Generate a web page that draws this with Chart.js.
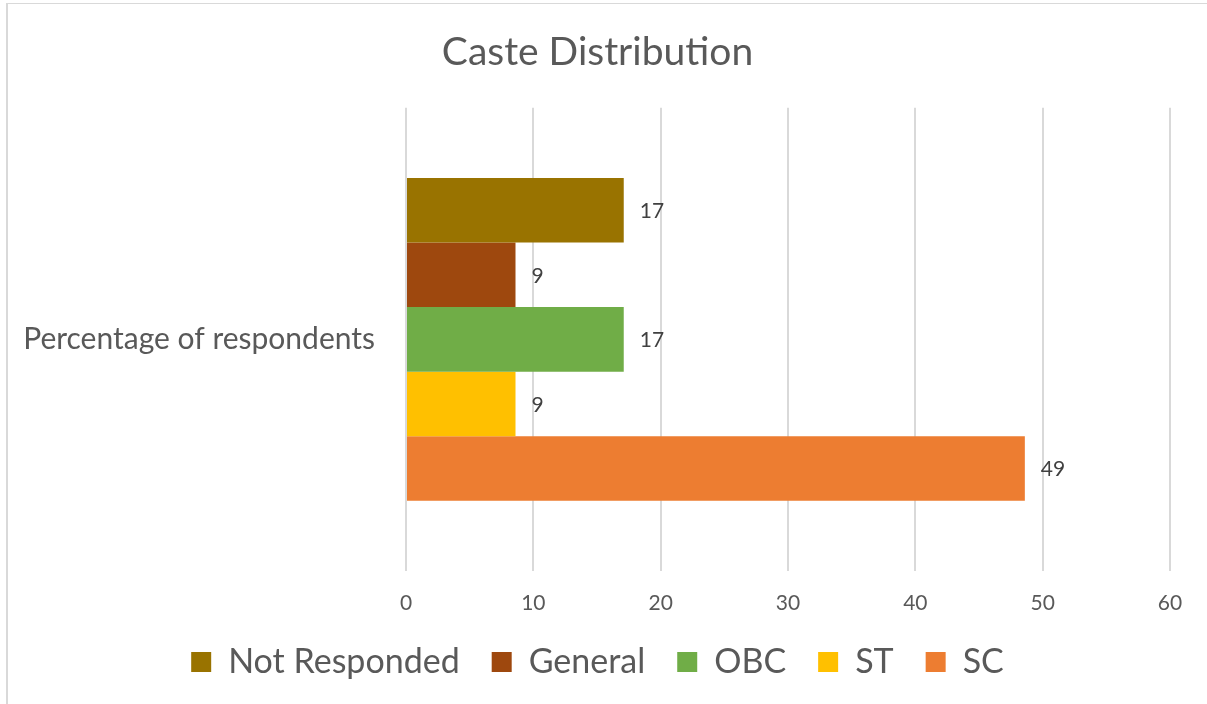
<!DOCTYPE html>
<html>
<head>
<meta charset="utf-8">
<script src="https://cdn.jsdelivr.net/npm/chart.js@4/dist/chart.umd.min.js"></script>
<style>
  html, body { margin: 0; padding: 0; background: #fff; }
  #frame { position: absolute; left: 6px; top: 3px; width: 1201px; height: 701px;
           border-left: 2px solid #d9d9d9; border-top: 1px solid #d9d9d9; box-sizing: border-box; }
  #wrap { position: absolute; left: 0; top: 0; width: 1207px; height: 704px; }
</style>
</head>
<body>
<div id="frame"></div>
<div id="wrap"><canvas id="casteChart" width="1207" height="704"></canvas></div>
<script>
const categories = ['Percentage of respondents'];
const seriesNames = ['Not Responded', 'General', 'OBC', 'ST', 'SC'];
const seriesValues = [17.1, 8.6, 17.1, 8.6, 48.6];
const seriesLabels = ['17', '9', '17', '9', '49'];
const seriesColors = ['#997300', '#9e480e', '#70ad47', '#ffc000', '#ed7d31'];
const xTicks = [0, 10, 20, 30, 40, 50, 60];

const FONT = 'Lato, "Open Sans", sans-serif';

// small inline replacement for data labels: value text to the right of each bar
const valueLabels = {
  id: 'valueLabels',
  afterDatasetsDraw(chart) {
    const ctx = chart.ctx;
    ctx.save();
    ctx.font = '21px ' + FONT;
    ctx.fillStyle = '#404040';
    ctx.textAlign = 'left';
    ctx.textBaseline = 'middle';
    chart.data.datasets.forEach((ds, i) => {
      chart.getDatasetMeta(i).data.forEach((bar) => {
        ctx.fillText(seriesLabels[i], bar.x + 16, bar.y + 1);
      });
    });
    ctx.restore();
  }
};

new Chart(document.getElementById('casteChart'), {
  type: 'bar',
  data: {
    labels: categories,
    datasets: seriesNames.map((name, i) => ({
      label: name,
      data: [seriesValues[i]],
      backgroundColor: seriesColors[i],
      borderWidth: 0,
      barPercentage: 1,
      categoryPercentage: 0.697
    }))
  },
  options: {
    indexAxis: 'y',
    responsive: false,
    animation: false,
    layout: { padding: { left: 25, right: 37, top: 29, bottom: 15 } },
    scales: {
      x: {
        min: 0,
        max: 60,
        afterBuildTicks: (axis) => { axis.ticks = xTicks.map(v => ({ value: v })); },
        afterFit: (axis) => { axis.height = 42; },
        grid: { color: '#d9d9d9', lineWidth: 2, drawTicks: false },
        border: { display: false },
        ticks: { color: '#595959', font: { family: FONT, size: 21 }, padding: 20 }
      },
      y: {
        afterFit: (axis) => { axis.width = 381; },
        grid: { display: false, drawTicks: false },
        border: { display: false },
        ticks: { color: '#595959', font: { family: FONT, size: 30 }, padding: 31 }
      }
    },
    plugins: {
      title: {
        display: true,
        text: 'Caste Distribution',
        color: '#595959',
        font: { family: FONT, size: 39, weight: 'normal' },
        padding: { top: 0, bottom: 32 }
      },
      legend: {
        position: 'bottom',
        labels: {
          color: '#595959',
          font: { family: FONT, size: 34 },
          boxWidth: 20,
          boxHeight: 20,
          padding: 32
        }
      },
      tooltip: { enabled: false }
    }
  },
  plugins: [valueLabels]
});
</script>
</body>
</html>
